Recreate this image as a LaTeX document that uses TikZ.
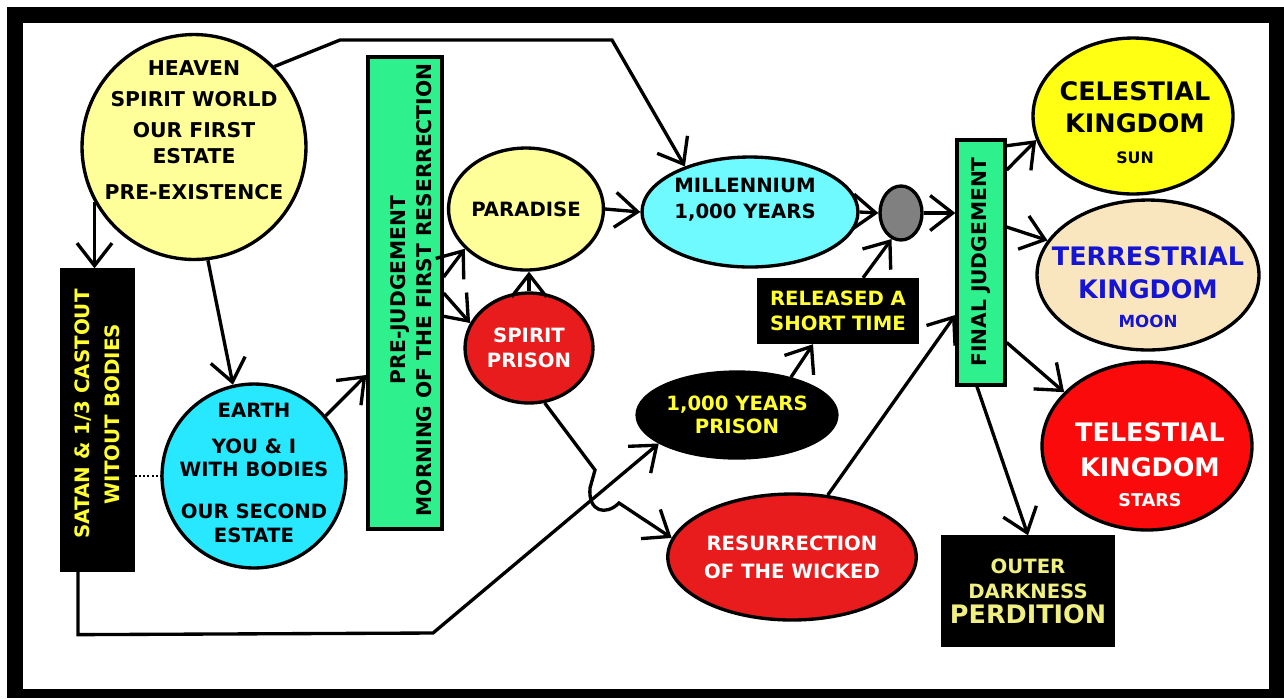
\documentclass[tikz,border=0pt]{standalone}
\usepackage{fontspec}
\setmainfont{DejaVu Sans}
\usetikzlibrary{shapes.geometric,arrows.meta}
\definecolor{paleyellow}{RGB}{255,255,153}
\definecolor{skycyan}{RGB}{40,232,255}
\definecolor{milcyan}{RGB}{110,250,255}
\definecolor{judgegreen}{RGB}{46,240,140}
\definecolor{prisonred}{RGB}{232,28,28}
\definecolor{starred}{RGB}{250,10,10}
\definecolor{sunyellow}{RGB}{255,255,20}
\definecolor{moonwheat}{RGB}{250,230,190}
\definecolor{moonblue}{RGB}{20,20,210}
\definecolor{textyellow}{RGB}{255,255,50}
\definecolor{paletext}{RGB}{240,240,130}
\definecolor{shadegray}{RGB}{128,128,128}
\begin{document}
\begin{tikzpicture}
	[	x=0.02cm, y=-0.02cm,
	blob/.style={ellipse, draw=black, line width=1.9pt, inner sep=0pt},
	slab/.style={rectangle, draw=black, line width=1.9pt, inner sep=0pt},
	lbl/.style={font=\bfseries\fontsize{11.2}{13}\selectfont, align=center, inner sep=0pt},
	big/.style={font=\bfseries\fontsize{14.5}{17}\selectfont, align=center, inner sep=0pt},
	arr/.style={-{Straight Barb[length=4.5mm,width=7mm]}, line width=1.9pt}
	]
	\useasboundingbox (0,0) rectangle (1284,698);
	\fill[black] (7,7) rectangle (1284,698);
	\fill[white] (23,23) rectangle (1269,689);

	% left side
	\node[blob, fill=paleyellow, minimum width=4.48cm, minimum height=4.5cm] (heaven) at (194,147) {};
	\node[lbl, font=\bfseries\fontsize{11.6}{13}\selectfont] (heaventxt) at (194,130) {HEAVEN\\[4.5pt]SPIRIT WORLD\\[5pt]OUR FIRST\\[1.5pt]ESTATE\\[7.5pt]PRE-EXISTENCE};
	\node[slab, fill=black, minimum width=1.42cm, minimum height=6cm] (satan) at (97.5,420) {};
	\node[lbl, rotate=90, text=textyellow, font=\bfseries\fontsize{11.3}{17}\selectfont] (satantxt) at (97,414) {SATAN \& 1/3 CASTOUT\\WITOUT BODIES};
	\node[blob, fill=skycyan, minimum size=3.68cm] (earth) at (254,476) {};
	\node[lbl] (earthtxt) at (254,473) {EARTH\\[7.4pt]YOU \& I\\WITH BODIES\\[10.8pt]OUR SECOND\\[1pt]ESTATE};
	\node[slab, fill=judgegreen, minimum width=1.48cm, minimum height=9.44cm] (prejudge) at (405,293) {};
	\node[lbl, rotate=90, font=\bfseries\fontsize{11.5}{15}\selectfont] (prejudgetxt) at (411,290) {PRE-JUDGEMENT\\MORNING OF THE FIRST RESERRECTION};

	% middle
	\node[blob, fill=paleyellow, minimum width=2.68cm, minimum height=2.44cm, lbl] (paradise) at (526,209) {PARADISE};
	\node[blob, fill=prisonred, minimum width=2.56cm, minimum height=2.2cm, lbl, text=white] (spiritprison) at (529,348) {SPIRIT\\[1pt]PRISON};
	\node[blob, fill=milcyan, minimum width=4.32cm, minimum height=2.2cm] (millennium) at (750,212) {};
	\node[lbl] (millenniumtxt) at (745,200) {MILLENNIUM\\[2pt]1,000 YEARS};
	\node[blob, fill=shadegray, minimum width=0.84cm, minimum height=1.08cm] (gate) at (901,213) {};
	\node[slab, fill=black, minimum width=3.16cm, minimum height=1.26cm, lbl, text=textyellow] (released) at (838,311) {RELEASED A\\[1pt]SHORT TIME};
	\node[blob, fill=black, minimum width=3.64cm, minimum height=1.72cm, lbl, text=textyellow] (prison1000) at (737,415) {1,000 YEARS\\PRISON};
	\node[blob, fill=prisonred, minimum width=4.12cm, minimum height=2.52cm, lbl, text=white] (wicked) at (792,557) {RESURRECTION\\[3pt]OF THE WICKED};

	% right side
	\node[slab, fill=judgegreen, minimum width=0.96cm, minimum height=4.9cm] (finaljudge) at (981,262.5) {};
	\node[lbl, rotate=90, font=\bfseries\fontsize{11.5}{14}\selectfont] (finaljudgetxt) at (981,262) {FINAL JUDGEMENT};
	\node[blob, fill=sunyellow, minimum width=4cm, minimum height=3.12cm] (celestial) at (1133,116) {};
	\node[big] (celestialtxt) at (1135,123) {CELESTIAL\\[1pt]KINGDOM\\[1pt]{\fontsize{9}{11}\selectfont SUN}};
	\node[blob, fill=moonwheat, minimum width=4.44cm, minimum height=3cm] (terrestrial) at (1148,275) {};
	\node[big, text=moonblue] (terrestrialtxt) at (1148,287) {TERRESTRIAL\\[2pt]KINGDOM\\[-1pt]{\fontsize{9.5}{11}\selectfont MOON}};
	\node[blob, fill=starred, minimum width=4.2cm, minimum height=3.36cm] (telestial) at (1147,446) {};
	\node[big, text=white] (telestialtxt) at (1150,465) {TELESTIAL\\[3pt]KINGDOM\\[0pt]{\fontsize{10}{12}\selectfont STARS}};
	\node[slab, fill=black, minimum width=3.4cm, minimum height=2.16cm, lbl, text=paletext] (outer) at (1028,591) {OUTER\\[1.5pt]DARKNESS\\[1pt]{\fontsize{14.5}{16}\selectfont PERDITION}};

	% connectors
	\draw[arr] (heaven.209) -- (heaven.209 |- satan.north);
	\draw[line width=1.2pt, dash pattern=on 1.2pt off 1.2pt] (earth.west -| satan.east) -- (earth.west);
	\draw[arr] (heaven.277) -- (earth.103);
	\draw[arr] (earth.40.7) -- ([yshift=-1.64cm]prejudge.west);
	\draw[arr] (heaven.45.4) -- (340,40) -- (612,40) -- (millennium.145.8);
	\draw[arr] ([yshift=0.32cm]prejudge.east) -- (paradise.213);
	\draw[arr] (prejudge.east) -- (spiritprison.157.7);
	\draw[arr] (spiritprison.north) -- (spiritprison.north |- paradise.south);
	\draw[arr] (paradise.east) -- (millennium.west);
	\draw[arr] (millennium.east) -- (gate.west);
	\draw[arr] (gate.east) -- (gate.east -| finaljudge.west);
	\draw[arr] (prison1000.35) -- ([xshift=-0.5cm]released.south);
	\draw[arr] ([xshift=0.5cm]released.north) -- (gate.250);
	\draw[arr] ([xshift=-0.39cm]satan.south) -- ++(0,63) -- (433,633) -- (prison1000.200);
	\draw[arr] (spiritprison.286) -- (595,470) -- (590,488) .. controls (588,512) and (606,516) .. (619,503) -- (wicked.171);
	\draw[arr] (wicked.60.6) -- ([yshift=-1.05cm]finaljudge.west);
	\draw[arr] ([yshift=1.85cm]finaljudge.east) -- (celestial.194);
	\draw[arr] ([yshift=0.71cm]finaljudge.east) -- (terrestrial.161.2);
	\draw[arr] ([yshift=-1.6cm]finaljudge.east) -- (telestial.147.6);
	\draw[arr] ([xshift=-0.08cm]finaljudge.south) -- (outer.north);
\end{tikzpicture}
\end{document}
